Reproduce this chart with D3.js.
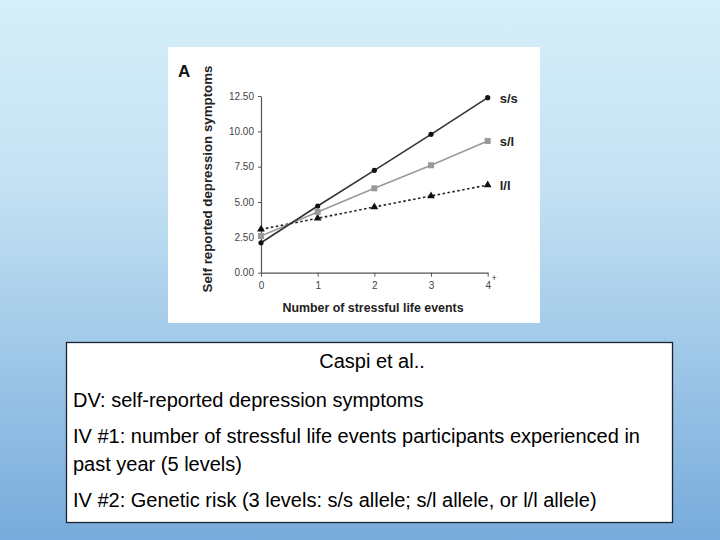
<!DOCTYPE html>
<html>
<head>
<meta charset="utf-8">
<script src="https://cdn.jsdelivr.net/npm/d3@7"></script>
<style>
  html, body { margin: 0; padding: 0; }
  body { width: 720px; height: 540px; overflow: hidden; }
</style>
</head>
<body>
<script>
// --- Data ---
const events = [0, 1, 2, 3, 4];
const xTickLabels = ["0", "1", "2", "3", "4"];
const yTicks = [0, 2.5, 5, 7.5, 10, 12.5];
const ss = [2.12, 4.72, 7.24, 9.79, 12.38];
const sl = [2.6, 4.3, 5.97, 7.6, 9.32];
const ll = [3.07, 3.85, 4.65, 5.43, 6.2];
const seriesLabels = ["s/s", "s/l", "l/l"];
const boxLines = [
    "DV: self-reported depression symptoms",
    "IV #1: number of stressful life events participants experienced in",
    "past year (5 levels)",
    "IV #2: Genetic risk (3 levels: s/s allele; s/l allele, or l/l allele)"
];

const W = 720, H = 540;
const svg = d3.select("body").append("svg")
    .attr("width", W).attr("height", H);

// background gradient
const defs = svg.append("defs");
const grad = defs.append("linearGradient")
    .attr("id", "bg").attr("x1", 0).attr("y1", 0).attr("x2", 0).attr("y2", 1);
grad.append("stop").attr("offset", "0%").attr("stop-color", "#d6eff9");
grad.append("stop").attr("offset", "35%").attr("stop-color", "#c3e1f3");
grad.append("stop").attr("offset", "100%").attr("stop-color", "#77abdb");
svg.append("rect").attr("width", W).attr("height", H).attr("fill", "url(#bg)");

// chart panel
svg.append("rect")
    .attr("x", 168).attr("y", 47).attr("width", 372).attr("height", 276)
    .attr("fill", "#fff");

const xScale = d3.scaleLinear().domain([0, 4]).range([261, 487.7]);
const yScale = d3.scaleLinear().domain([0, 12.5]).range([272.7, 96]);

const font = "Arial, 'Liberation Sans', Helvetica, sans-serif";

// axes
const yAxis = d3.axisLeft(yScale).tickValues(yTicks)
    .tickFormat(d3.format(".2f")).tickSize(3).tickSizeOuter(0);
const gy = svg.append("g").attr("transform", `translate(${xScale(0)},0)`).call(yAxis);
const xAxis = d3.axisBottom(xScale).tickValues(events)
    .tickFormat((d, i) => xTickLabels[i]).tickSize(4).tickSizeOuter(0);
const gx = svg.append("g").attr("transform", `translate(0,${yScale(0)})`).call(xAxis);

[gx, gy].forEach(g => {
    g.select(".domain").attr("stroke", "#555").attr("stroke-width", 1.2);
    g.selectAll(".tick line").attr("stroke", "#555");
    g.selectAll("text").attr("font-family", font).attr("font-size", 10).attr("fill", "#444");
});
gy.selectAll("text").attr("dx", "-1");
gx.selectAll("text").attr("dy", "0.9em");
gx.selectAll(".tick").filter(d => d === 4).append("text")
    .attr("x", 6).attr("y", 8).attr("font-family", font).attr("font-size", 9)
    .attr("fill", "#444").text("+");

// lines
const line = d3.line().x((d, i) => xScale(events[i])).y(d => yScale(d));
svg.append("path").datum(ll).attr("d", line).attr("fill", "none")
    .attr("stroke", "#222").attr("stroke-width", 1.6).attr("stroke-dasharray", "2.5,2.5");
svg.append("path").datum(sl).attr("d", line).attr("fill", "none")
    .attr("stroke", "#9a9a9a").attr("stroke-width", 1.6);
svg.append("path").datum(ss).attr("d", line).attr("fill", "none")
    .attr("stroke", "#333").attr("stroke-width", 1.6);

// markers
svg.selectAll(".m-ll").data(ll).enter().append("path")
    .attr("d", d3.symbol(d3.symbolTriangle, 26))
    .attr("transform", (d, i) => `translate(${xScale(events[i])},${yScale(d)})`)
    .attr("fill", "#111");
svg.selectAll(".m-sl").data(sl).enter().append("rect")
    .attr("x", (d, i) => xScale(events[i]) - 3).attr("y", d => yScale(d) - 3)
    .attr("width", 6).attr("height", 6).attr("fill", "#999");
svg.selectAll(".m-ss").data(ss).enter().append("circle")
    .attr("cx", (d, i) => xScale(events[i])).attr("cy", d => yScale(d))
    .attr("r", 2.6).attr("fill", "#111");

// series labels
[ss, sl, ll].forEach((s, k) => {
    svg.append("text")
        .attr("x", xScale(4) + 12).attr("y", yScale(s[4]) + 5)
        .attr("font-family", font).attr("font-size", 13).attr("font-weight", "bold")
        .attr("fill", "#222").text(seriesLabels[k]);
});

// titles
svg.append("text").attr("x", 178).attr("y", 77)
    .attr("font-family", font).attr("font-size", 17).attr("font-weight", "bold")
    .attr("fill", "#111").text("A");
svg.append("text")
    .attr("transform", "translate(212,179) rotate(-90)")
    .attr("text-anchor", "middle")
    .attr("font-family", font).attr("font-size", 13.3).attr("font-weight", "bold")
    .attr("fill", "#222").text("Self reported depression symptoms");
svg.append("text").attr("x", 373).attr("y", 312)
    .attr("text-anchor", "middle")
    .attr("font-family", font).attr("font-size", 12.4).attr("font-weight", "bold")
    .attr("fill", "#222").text("Number of stressful life events");

// text box
svg.append("rect")
    .attr("x", 66.5).attr("y", 342.5).attr("width", 606).attr("height", 180)
    .attr("fill", "#fff").attr("stroke", "#1a2233").attr("stroke-width", 1.3);
svg.append("text").attr("x", 372).attr("y", 368)
    .attr("text-anchor", "middle")
    .attr("font-family", font).attr("font-size", 20).attr("fill", "#000")
    .text("Caspi et al..");
const lineY = [407, 443, 471, 507];
boxLines.forEach((t, i) => {
    svg.append("text").attr("x", 73).attr("y", lineY[i])
        .attr("font-family", font).attr("font-size", 20).attr("fill", "#000")
        .text(t);
});
</script>
</body>
</html>
